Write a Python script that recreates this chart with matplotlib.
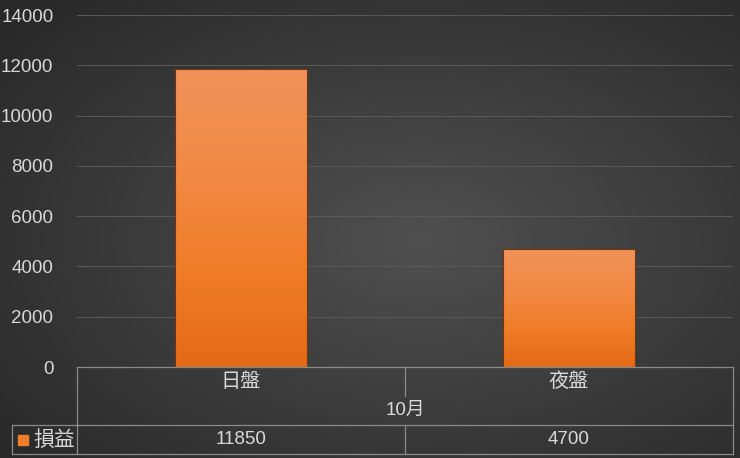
import matplotlib
matplotlib.use("Agg")
import matplotlib.pyplot as plt
import numpy as np
from matplotlib.colors import LinearSegmentedColormap

plt.rcParams['font.family'] = ['Liberation Sans', 'Noto Sans CJK TC', 'DejaVu Sans']

# data
categories = ["日盤", "夜盤"]
group_label = "10月"
series_name = "損益"
values = [11850, 4700]
yticks = [0, 2000, 4000, 6000, 8000, 10000, 12000, 14000]

W, H = 740, 458
text_col = "#d9d9d9"
line_col = "#8a8a8a"

fig = plt.figure(figsize=(W / 100, H / 100), dpi=100)

# background: soft radial gradient
bg = fig.add_axes([0, 0, 1, 1], zorder=-10)
yy, xx = np.mgrid[0:H, 0:W]
r = np.sqrt(((xx - 420) / W) ** 2 + ((yy - 240) / H) ** 2)
t = np.clip(r / 0.75, 0, 1)
c0, c1 = 0x50 / 255, 0x28 / 255
shade = c0 + (c1 - c0) * t
img = np.dstack([shade, shade, shade])
bg.imshow(img, aspect="auto", extent=[0, 1, 0, 1])
bg.set_axis_off()

# main plot area
x0, x1 = 77, 733
ytop, ybot = 15, 367
ax = fig.add_axes([x0 / W, (H - ybot) / H, (x1 - x0) / W, (ybot - ytop) / H])
ax.set_facecolor("none")
ax.set_xlim(-0.5, len(categories) - 0.5)
ax.set_ylim(0, 14000)
ax.set_yticks(yticks)
ax.set_yticklabels([str(v) for v in yticks], fontsize=13.5, color=text_col)
ax.tick_params(axis="y", length=0, pad=17)
ax.set_xticks([])
for s in ax.spines.values():
    s.set_visible(False)
ax.grid(axis="y", color="#585858", linewidth=0.75)
ax.set_axisbelow(True)

orange_cmap = LinearSegmentedColormap.from_list(
    "org", ["#e46a17", "#f07d28", "#f28a45", "#f0925a"])
grad = np.linspace(0, 1, 256).reshape(-1, 1)
bars = ax.bar(range(len(values)), values, width=0.4, facecolor="none",
              edgecolor="#6e3510", linewidth=0.8, zorder=3)
for b in bars:
    bx, by = b.get_x(), b.get_y()
    im = ax.imshow(grad, cmap=orange_cmap, aspect="auto", origin="lower",
                   extent=[bx, bx + b.get_width(), by, by + b.get_height()],
                   zorder=2)
    im.set_clip_path(b)
ax.set_xlim(-0.5, len(categories) - 0.5)
ax.set_ylim(0, 14000)

# data table below the plot
tb = fig.add_axes([x0 / W, (H - 454) / H, (x1 - x0) / W, (454 - 367) / H])
tb.set_facecolor("none")
tb.set_xlim(-0.5, len(categories) - 0.5)
tb.set_ylim(3, 0)
tb.set_axis_off()
xl = -0.5 - (x0 - 12) / ((x1 - x0) / len(categories))
kw = dict(color=line_col, linewidth=0.9, clip_on=False)
n = len(categories)
tb.plot([-0.5, n - 0.5], [0, 0], **kw)
tb.plot([xl, n - 0.5], [2, 2], **kw)
tb.plot([xl, n - 0.5], [3, 3], **kw)
tb.plot([-0.5, -0.5], [0, 3], **kw)
tb.plot([n - 0.5, n - 0.5], [0, 3], **kw)
tb.plot([xl, xl], [2, 3], **kw)
for i in range(1, n):
    tb.plot([i - 0.5, i - 0.5], [0, 1], **kw)
    tb.plot([i - 0.5, i - 0.5], [2, 3], **kw)
for i, c in enumerate(categories):
    tb.text(i, 0.5, c, ha="center", va="center", fontsize=14.5, color=text_col)
    tb.text(i, 2.5, str(values[i]), ha="center", va="center", fontsize=13.5,
            color=text_col)
tb.text((n - 1) / 2, 1.5, group_label, ha="center", va="center", fontsize=13.5,
        color=text_col)
tb.text(xl + 0.064, 2.52, series_name, ha="left", va="center", fontsize=15,
        color=text_col)
tb.plot([xl + 0.033], [2.5], marker="s", markersize=7.5, color="#f07d28",
        linestyle="none", clip_on=False)

fig.savefig("out.png", dpi=100)
